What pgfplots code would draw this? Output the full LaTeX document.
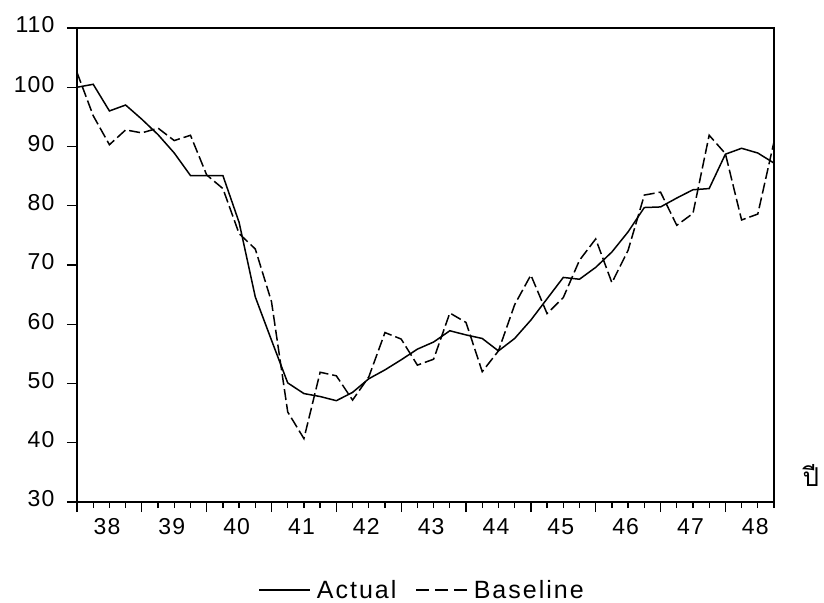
\documentclass[border=0pt]{standalone}
\usepackage{fontspec}
\setmainfont{Liberation Sans}
\newfontfamily\tickfont{Liberation Sans}[LetterSpace=5]
\newfontfamily\legfont{Liberation Sans}[LetterSpace=8]
\newfontfamily\thaifont[Script=Thai]{Loma}
\usepackage{pgfplots}
\pgfplotsset{compat=1.18}
\usepackage{pgfplotstable}

\pgfplotstableread{
i actual
0 100.0
1 100.5
2 96.0
3 97.0
4 94.6
5 92.0
6 88.9
7 85.1
8 85.1
9 85.1
10 77.2
11 64.6
12 57.3
13 50.1
14 48.3
15 47.8
16 47.1
17 48.5
18 50.8
19 52.3
20 54.0
21 55.8
22 57.0
23 58.9
24 58.2
25 57.6
26 55.5
27 57.6
28 60.7
29 64.3
30 67.9
31 67.6
32 69.6
33 72.2
34 75.6
35 79.7
36 79.8
37 81.3
38 82.7
39 82.9
40 88.7
41 89.7
42 88.9
43 87.2
}\actualtab

\pgfplotstableread{
i baseline
0 102.5
1 95.2
2 90.3
3 92.8
4 92.3
5 93.1
6 91.0
7 91.9
8 85.2
9 82.9
10 75.3
11 72.7
12 63.8
13 45.2
14 40.7
15 51.9
16 51.3
17 47.2
18 51.1
19 58.6
20 57.5
21 53.1
22 54.1
23 61.9
24 60.3
25 52.0
26 55.5
27 63.3
28 68.3
29 61.8
30 64.5
31 70.8
32 74.4
33 67.0
34 72.5
35 81.8
36 82.3
37 76.7
38 78.7
39 91.9
40 88.8
41 77.6
42 78.6
43 90.8
}\baselinetab

\begin{document}
\begin{tikzpicture}
\useasboundingbox (-77bp,-101bp) rectangle (747bp,502bp);
\begin{axis}[
  at={(0,0)}, anchor=south west,
  scale only axis,
  width=697bp, height=474bp,
  xmin=0, xmax=43, ymin=30, ymax=110,
  clip=false,
  axis line style={line width=1.7bp},
  tick pos=left,
  tick align=outside,
  ytick={30,40,...,110},
  yticklabel style={font=\tickfont\fontsize{23bp}{27bp}\selectfont, yshift=3bp, xshift=-9bp},
  /pgf/number format/assume math mode=true,
  xtick={0,4,...,40},
  xticklabels={},
  minor xtick={0,1,...,43},
  major tick length=10bp,
  minor tick length=6bp,
  every tick/.style={black, line width=1.3bp},
  extra x ticks={1.85,5.85,...,41.85},
  extra x tick labels={38,39,40,41,42,43,44,45,46,47,48},
  extra x tick style={major tick length=0bp, tick style={draw=none},
     xticklabel style={font=\tickfont\fontsize{23bp}{27bp}\selectfont, yshift=-13bp}},
  legend style={draw=none, fill=none, legend columns=2,
     at={(axis description cs:0.498,-0.186)}, anchor=center,
     font=\legfont\fontsize{25bp}{29bp}\selectfont,
     inner sep=0pt,
     nodes={inner xsep=6bp, inner ysep=2bp},
     /tikz/every even column/.append style={column sep=13bp}},
]
\addplot[black, line width=1.5bp,
  legend image code/.code={\draw[black, line width=1.4bp] (0bp,0bp) -- (51bp,0bp);}]
  table[x=i, y=actual] {\actualtab};
\addlegendentry{Actual}
\addplot[black, line width=1.5bp, dash pattern=on 11bp off 4bp,
  legend image code/.code={\draw[black, line width=1.4bp, dash pattern=on 13bp off 6bp] (0bp,0bp) -- (51bp,0bp);}]
  table[x=i, y=baseline] {\baselinetab};
\addlegendentry{Baseline}
\node[font=\thaifont\fontsize{26bp}{30bp}\selectfont] at (rel axis cs:1.053,0.055) {ปี};
\end{axis}
\end{tikzpicture}
\end{document}
